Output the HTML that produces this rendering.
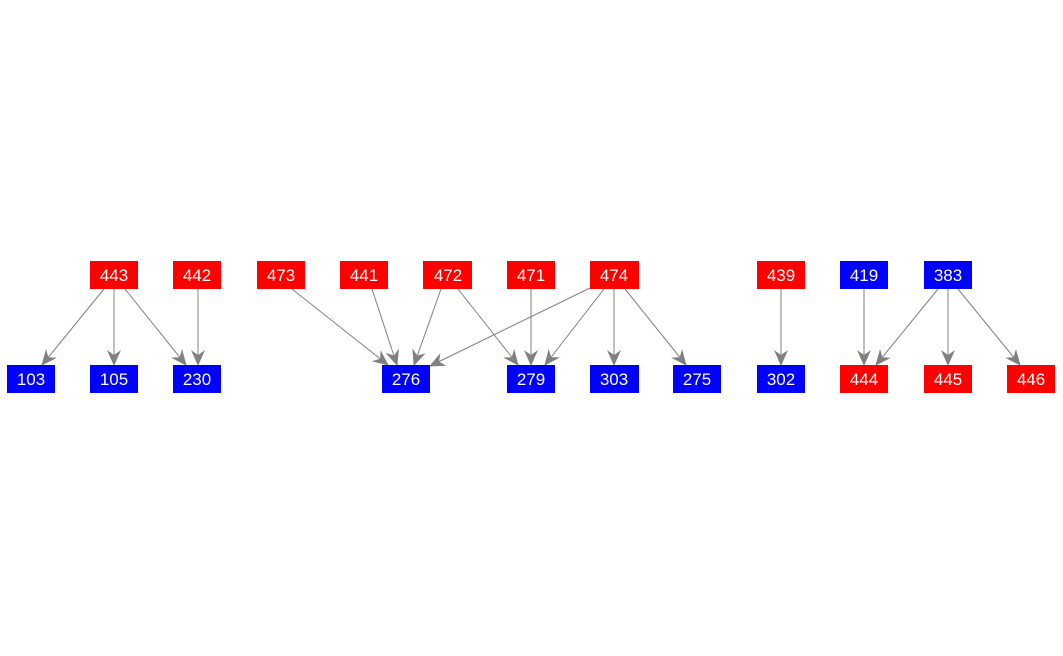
<!DOCTYPE html>
<html><head><style>
html,body{margin:0;padding:0;background:#fff;}
svg{display:block;}
text{font-family:"Liberation Sans",Arial,sans-serif;font-size:17px;fill:#fff;text-anchor:middle;}
</style></head><body>
<svg width="1063" height="656" viewBox="0 0 1063 656" xmlns="http://www.w3.org/2000/svg">
<defs>
<marker id="a" markerWidth="16" markerHeight="14" refX="15" refY="7" orient="auto" markerUnits="userSpaceOnUse">
<path d="M0,0 L16,7 L0,14 L5,7 z" fill="#808080"/>
</marker>
</defs>
<g stroke="#808080" stroke-width="1" marker-end="url(#a)">
<line x1="104" y1="289" x2="42" y2="365"/>
<line x1="114" y1="289" x2="114" y2="365"/>
<line x1="125" y1="289" x2="186" y2="365"/>
<line x1="198" y1="289" x2="198" y2="365"/>
<line x1="292" y1="289" x2="388" y2="365"/>
<line x1="372" y1="289" x2="397" y2="365"/>
<line x1="441" y1="289" x2="414" y2="365"/>
<line x1="458" y1="289" x2="518" y2="365"/>
<line x1="531" y1="289" x2="531" y2="365"/>
<line x1="590" y1="288" x2="430" y2="366"/>
<line x1="604" y1="289" x2="545" y2="365"/>
<line x1="614" y1="289" x2="614" y2="365"/>
<line x1="625" y1="289" x2="686" y2="365"/>
<line x1="781" y1="289" x2="781" y2="365"/>
<line x1="864" y1="289" x2="864" y2="365"/>
<line x1="938" y1="289" x2="876" y2="365"/>
<line x1="948" y1="289" x2="948" y2="365"/>
<line x1="958" y1="289" x2="1020" y2="365"/>
</g>
<g>
<rect x="90" y="261" width="48" height="28" fill="#f00"/><text x="114" y="281">443</text>
<rect x="173" y="261" width="48" height="28" fill="#f00"/><text x="197" y="281">442</text>
<rect x="257" y="261" width="48" height="28" fill="#f00"/><text x="281" y="281">473</text>
<rect x="340" y="261" width="48" height="28" fill="#f00"/><text x="364" y="281">441</text>
<rect x="423" y="261" width="49" height="28" fill="#f00"/><text x="448" y="281">472</text>
<rect x="507" y="261" width="48" height="28" fill="#f00"/><text x="531" y="281">471</text>
<rect x="590" y="261" width="49" height="28" fill="#f00"/><text x="614" y="281">474</text>
<rect x="757" y="261" width="48" height="28" fill="#f00"/><text x="781" y="281">439</text>
<rect x="840" y="261" width="48" height="28" fill="#00f"/><text x="864" y="281">419</text>
<rect x="924" y="261" width="48" height="28" fill="#00f"/><text x="948" y="281">383</text>

<rect x="7" y="365" width="48" height="28" fill="#00f"/><text x="31" y="385">103</text>
<rect x="90" y="365" width="48" height="28" fill="#00f"/><text x="114" y="385">105</text>
<rect x="173" y="365" width="48" height="28" fill="#00f"/><text x="197" y="385">230</text>
<rect x="382" y="365" width="48" height="28" fill="#00f"/><text x="406" y="385">276</text>
<rect x="507" y="365" width="48" height="28" fill="#00f"/><text x="531" y="385">279</text>
<rect x="590" y="365" width="49" height="28" fill="#00f"/><text x="614" y="385">303</text>
<rect x="673" y="365" width="48" height="28" fill="#00f"/><text x="697" y="385">275</text>
<rect x="757" y="365" width="48" height="28" fill="#00f"/><text x="781" y="385">302</text>
<rect x="840" y="365" width="48" height="28" fill="#f00"/><text x="864" y="385">444</text>
<rect x="924" y="365" width="48" height="28" fill="#f00"/><text x="948" y="385">445</text>
<rect x="1007" y="365" width="48" height="28" fill="#f00"/><text x="1031" y="385">446</text>
</g>
</svg>
</body></html>
